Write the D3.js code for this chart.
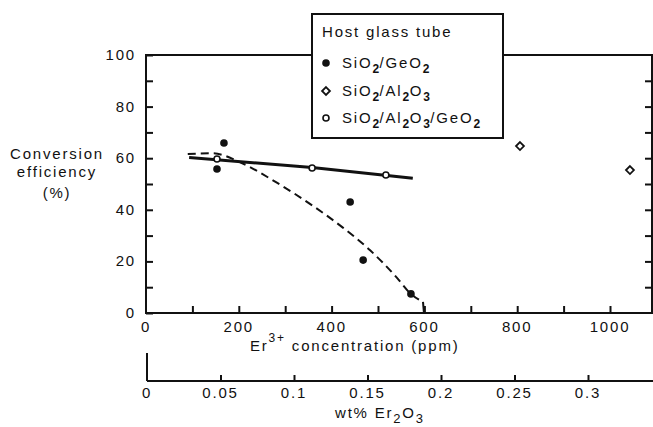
<!DOCTYPE html>
<html>
<head>
<meta charset="utf-8">
<script src="https://cdn.jsdelivr.net/npm/d3@7"></script>
<style>
    body { margin: 0; background: white; }
    text { font-family: "Liberation Sans", Arial, sans-serif; fill: #111; letter-spacing: 1.8px; }
</style>
</head>
<body>
<div id="chart"></div>
<script>
// data
const geX = [153, 168, 440, 468, 571];
const geY = [55.8, 65.9, 43.0, 20.5, 7.4];
const alX = [806, 1043];
const alY = [64.7, 55.4];
const alGeX = [153, 358, 517];
const alGeY = [59.7, 56.2, 53.5];
const fitX = [93, 358, 575];
const fitY = [60.3, 56.4, 52.2];
const dashX = [90, 144, 203, 282, 360, 425, 483, 541, 569, 597];
const dashY = [61.6, 61.9, 58.4, 50.5, 41.5, 33.0, 24.3, 13.6, 7.7, 4.3];
const dashTailX = [597, 599];
const dashTailY = [4.3, 0];
const yTicks = [0, 20, 40, 60, 80, 100];
const xTicks = [0, 200, 400, 600, 800, 1000];
const wtTicks = [0, 0.05, 0.1, 0.15, 0.2, 0.25, 0.3];
const legendNames = [
    [['SiO', 0], ['2', 1], ['/GeO', 0], ['2', 1]],
    [['SiO', 0], ['2', 1], ['/Al', 0], ['2', 1], ['O', 0], ['3', 1]],
    [['SiO', 0], ['2', 1], ['/Al', 0], ['2', 1], ['O', 0], ['3', 1], ['/GeO', 0], ['2', 1]]
];

const width = 653, height = 427;
const plotLeft = 146, plotRight = 652, plotTop = 55, plotBottom = 313;

const svg = d3.select('#chart').append('svg')
    .attr('width', width)
    .attr('height', height)
    .style('background', 'white');

const x = d3.scaleLinear().domain([0, 1000]).range([plotLeft, 610]);
const y = d3.scaleLinear().domain([0, 100]).range([plotBottom, plotTop]);
const xWt = d3.scaleLinear().domain([0, 0.3]).range([147, 588]);

// frame
svg.append('rect')
    .attr('x', plotLeft).attr('y', plotTop)
    .attr('width', plotRight - plotLeft).attr('height', plotBottom - plotTop)
    .attr('fill', 'none').attr('stroke', '#111').attr('stroke-width', 2);

// left axis
const yAxis = d3.axisRight(y).tickValues(d3.range(0, 101, 10)).tickSize(7).tickFormat('');
svg.append('g').attr('transform', `translate(${plotLeft},0)`).call(yAxis)
    .call(g => g.select('.domain').remove())
    .selectAll('line').attr('stroke', '#111').attr('stroke-width', 2);

svg.selectAll('.ylab')
    .data(yTicks)
    .join('text')
    .attr('class', 'ylab')
    .attr('x', 136).attr('y', d => y(d) + 5)
    .attr('text-anchor', 'end')
    .attr('font-size', 15)
    .text(d => d);

// right axis ticks
const yAxisR = d3.axisLeft(y).tickValues(d3.range(10, 100, 10)).tickSize(7).tickFormat('');
svg.append('g').attr('transform', `translate(${plotRight},0)`).call(yAxisR)
    .call(g => g.select('.domain').remove())
    .selectAll('line').attr('stroke', '#111').attr('stroke-width', 2);

// bottom axis
const xAxis = d3.axisTop(x).tickValues(d3.range(100, 1001, 100)).tickSize(7).tickFormat('');
svg.append('g').attr('transform', `translate(0,${plotBottom})`).call(xAxis)
    .call(g => g.select('.domain').remove())
    .selectAll('line').attr('stroke', '#111').attr('stroke-width', 2);

svg.selectAll('.xlab')
    .data(xTicks)
    .join('text')
    .attr('class', 'xlab')
    .attr('x', d => x(d)).attr('y', 332)
    .attr('text-anchor', 'middle')
    .attr('font-size', 15)
    .text(d => d);

const xTitle = svg.append('text').attr('x', 250).attr('y', 351).attr('font-size', 15);
xTitle.append('tspan').text('Er');
xTitle.append('tspan').attr('dy', -9).attr('font-size', 12).text('3+');
xTitle.append('tspan').attr('dy', 9).text(' concentration (ppm)');

// secondary wt% axis
svg.append('line')
    .attr('x1', 147).attr('x2', 147).attr('y1', 353).attr('y2', 381)
    .attr('stroke', '#111').attr('stroke-width', 2);
const wtAxis = d3.axisTop(xWt).tickValues(wtTicks.slice(1)).tickSize(6).tickFormat('');
svg.append('g').attr('transform', 'translate(0,381)').call(wtAxis)
    .call(g => g.select('.domain').remove())
    .selectAll('line').attr('stroke', '#111').attr('stroke-width', 2);
svg.append('line')
    .attr('x1', 147).attr('x2', width).attr('y1', 381).attr('y2', 381)
    .attr('stroke', '#111').attr('stroke-width', 2);

svg.selectAll('.wtlab')
    .data(wtTicks)
    .join('text')
    .attr('class', 'wtlab')
    .attr('x', d => xWt(d)).attr('y', 398)
    .attr('text-anchor', 'middle')
    .attr('font-size', 15)
    .text(d => d);

const wtTitle = svg.append('text').attr('x', 335).attr('y', 418).attr('font-size', 15);
wtTitle.append('tspan').text('wt% Er');
wtTitle.append('tspan').attr('dy', 5).attr('font-size', 13).text('2');
wtTitle.append('tspan').attr('dy', -5).text('O');
wtTitle.append('tspan').attr('dy', 5).attr('font-size', 13).text('3');

// y title
svg.selectAll('.ytitle')
    .data(['Conversion', 'efficiency', '(%)'])
    .join('text')
    .attr('class', 'ytitle')
    .attr('x', 57)
    .attr('y', (d, i) => [159, 177, 198][i])
    .attr('text-anchor', 'middle')
    .attr('font-size', 15)
    .text(d => d);

// fit lines
const line = d3.line().x(d => x(d[0])).y(d => y(d[1]));
svg.append('path')
    .datum(fitX.map((v, i) => [v, fitY[i]]))
    .attr('d', line)
    .attr('fill', 'none').attr('stroke', '#111').attr('stroke-width', 3);

svg.append('path')
    .datum(dashX.map((v, i) => [v, dashY[i]]))
    .attr('d', line.curve(d3.curveMonotoneX))
    .attr('fill', 'none').attr('stroke', '#111').attr('stroke-width', 2)
    .attr('stroke-dasharray', '8,5');

svg.append('path')
    .datum(dashTailX.map((v, i) => [v, dashTailY[i]]))
    .attr('d', line.curve(d3.curveLinear))
    .attr('fill', 'none').attr('stroke', '#111').attr('stroke-width', 2);

// points
svg.selectAll('.ge')
    .data(geX)
    .join('circle')
    .attr('class', 'ge')
    .attr('cx', d => x(d)).attr('cy', (d, i) => y(geY[i]))
    .attr('r', 3.8).attr('fill', '#111');

svg.selectAll('.alge')
    .data(alGeX)
    .join('circle')
    .attr('class', 'alge')
    .attr('cx', d => x(d)).attr('cy', (d, i) => y(alGeY[i]))
    .attr('r', 3).attr('fill', 'white').attr('stroke', '#111').attr('stroke-width', 1.6);

const diamond = d3.symbol().type(d3.symbolDiamond2).size(40);
svg.selectAll('.al')
    .data(alX)
    .join('path')
    .attr('class', 'al')
    .attr('d', diamond)
    .attr('transform', (d, i) => `translate(${x(d)},${y(alY[i])})`)
    .attr('fill', 'white').attr('stroke', '#111').attr('stroke-width', 1.8);

// legend
const legend = svg.append('g');
legend.append('rect')
    .attr('x', 312).attr('y', 14).attr('width', 191).attr('height', 124)
    .attr('fill', 'white').attr('stroke', '#111').attr('stroke-width', 2);
legend.append('text').attr('x', 322).attr('y', 37).attr('font-size', 15).text('Host glass tube');

const rowY = [63, 91, 118];
legend.append('circle').attr('cx', 326).attr('cy', rowY[0]).attr('r', 3.8).attr('fill', '#111');
legend.append('path').attr('d', diamond)
    .attr('transform', `translate(326,${rowY[1]})`)
    .attr('fill', 'white').attr('stroke', '#111').attr('stroke-width', 1.8);
legend.append('circle').attr('cx', 326).attr('cy', rowY[2]).attr('r', 3)
    .attr('fill', 'white').attr('stroke', '#111').attr('stroke-width', 1.6);

legendNames.forEach((parts, i) => {
    const t = legend.append('text').attr('x', 342).attr('y', rowY[i] + 5).attr('font-size', 15);
    let sub = 0;
    parts.forEach(p => {
        const dy = (p[1] ? 5 : 0) - (sub ? 5 : 0);
        t.append('tspan')
            .attr('dy', dy)
            .attr('font-size', p[1] ? 12 : 15)
            .attr('font-weight', p[1] ? 'bold' : 'normal')
            .style('letter-spacing', p[1] ? '0.5px' : null)
            .text(p[0]);
        sub = p[1];
    });
});
</script>
</body>
</html>
